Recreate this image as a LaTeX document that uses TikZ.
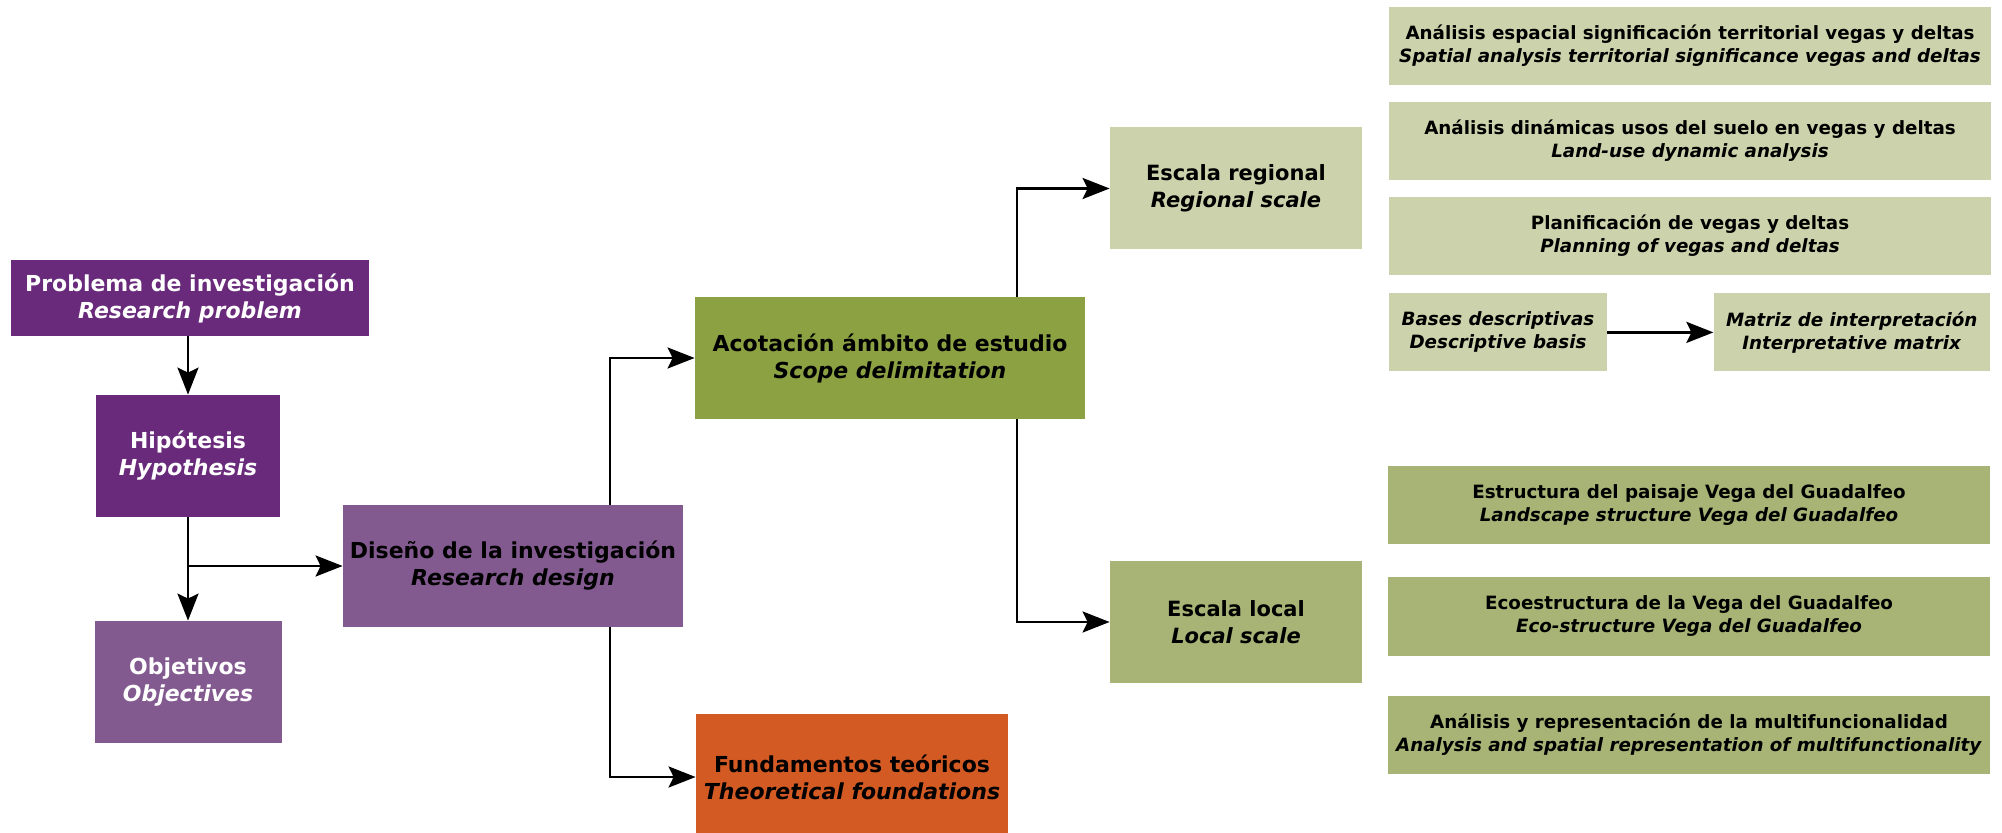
\documentclass[tikz,border=0pt]{standalone}
\usepackage{fontspec}
\setmainfont{DejaVu Sans}
\usepackage{tikz}
\usetikzlibrary{
  arrows.meta,
  positioning,
  calc
}
\definecolor{tdDark}{HTML}{6A2A7B}
\definecolor{tdPurple}{HTML}{835A90}
\definecolor{tdOlive}{HTML}{8CA142}
\definecolor{tdOrange}{HTML}{D45A24}
\definecolor{tdSage}{HTML}{CCD3AC}
\definecolor{tdMoss}{HTML}{A7B476}
\tikzset{
  tdnode/.style={
    rectangle, inner sep=0pt, align=center, text=black,
    font=\fontsize{11}{13.5}\selectfont\bfseries
  },
  bigbox/.style={tdnode, minimum height=61pt},
  problem/.style={tdnode, fill=tdDark, text=white, minimum height=38pt},
  hypo/.style={bigbox, fill=tdDark, text=white},
  design/.style={bigbox, fill=tdPurple},
  scope/.style={bigbox, fill=tdOlive},
  theory/.style={bigbox, fill=tdOrange, minimum height=63pt},
  scalebox/.style={bigbox, minimum width=126pt, font=\fontsize{10.5}{13.5}\selectfont\bfseries},
  taskbox/.style={tdnode, minimum height=39pt, font=\fontsize{9.15}{11.5}\selectfont\bfseries},
  regtask/.style={taskbox, fill=tdSage},
  loctask/.style={taskbox, fill=tdMoss, minimum width=301pt},
  arr/.style={-{Stealth[length=13.5pt, width=10.5pt, inset=2.5pt]}, line width=1.35pt, black}
}

\begin{document}
\begin{tikzpicture}[x=0.5pt, y=-0.5pt]
  \useasboundingbox (0,0) rectangle (2002,833);

  % left column
  \node[problem, minimum width=179pt] (prob) at (190,298) {Problema de investigación\\ \textit{Research problem}};
  \node[hypo, minimum width=92pt] (hyp) at (188,456) {Hipótesis\\ \textit{Hypothesis}};
  \node[hypo, fill=tdPurple, minimum width=93.5pt] (obj) at (188,682) {Objetivos\\ \textit{Objectives}};
  \node[design, minimum width=170pt] (des) at (513,566) {Diseño de la investigación\\ \textit{Research design}};

  % middle
  \node[scope, minimum width=195pt] (aco) at (890,358) {Acotación ámbito de estudio\\ \textit{Scope delimitation}};
  \node[theory, minimum width=156pt] (fun) at (852,777) {Fundamentos teóricos\\ \textit{Theoretical foundations}};
  \node[scalebox, fill=tdSage] (reg) at (1236,188.5) {Escala regional\\ \textit{Regional scale}};
  \node[scalebox, fill=tdMoss] (loc) at (1236,622) {Escala local\\ \textit{Local scale}};

  % regional tasks
  \node[regtask, minimum width=301pt] (r1) at (1690,46) {Análisis espacial significación territorial vegas y deltas\\ \textit{Spatial analysis territorial significance vegas and deltas}};
  \node[regtask, minimum width=301pt, below=8pt of r1] (r2) {Análisis dinámicas usos del suelo en vegas y deltas\\ \textit{Land-use dynamic analysis}};
  \node[regtask, minimum width=301pt, below=8pt of r2] (r3) {Planificación de vegas y deltas\\ \textit{Planning of vegas and deltas}};
  \node[regtask, minimum width=109pt, below=9pt of r3.south west, anchor=north west] (bas) {\textit{Bases descriptivas}\\ \textit{Descriptive basis}};
  \node[regtask, minimum width=138pt, right=53pt of bas] (mat) {\textit{Matriz de interpretación}\\ \textit{Interpretative matrix}};

  % local tasks
  \node[loctask] (l1) at (1689,505.5) {Estructura del paisaje Vega del Guadalfeo\\ \textit{Landscape structure Vega del Guadalfeo}};
  \node[loctask] (l2) at (1689,616.5) {Ecoestructura de la Vega del Guadalfeo\\ \textit{Eco-structure Vega del Guadalfeo}};
  \node[loctask] (l3) at (1689,735) {Análisis y representación de la multifuncionalidad\\ \textit{Analysis and spatial representation of multifunctionality}};

  % connectors
  \draw[arr] (prob.south -| hyp.north) -- (hyp.north);
  \draw[arr] (hyp) -- (obj);
  \draw[arr] (hyp.south |- des.west) -- (des);
  \draw[arr] ($(des.north)+(97,0)$) |- (aco);
  \draw[arr] ($(des.south)+(97,0)$) |- (fun);
  \draw[arr] ($(aco.north)+(127,0)$) |- (reg);
  \draw[arr] ($(aco.south)+(127,0)$) |- (loc);
  \draw[arr] (bas) -- (mat);
\end{tikzpicture}
\end{document}
